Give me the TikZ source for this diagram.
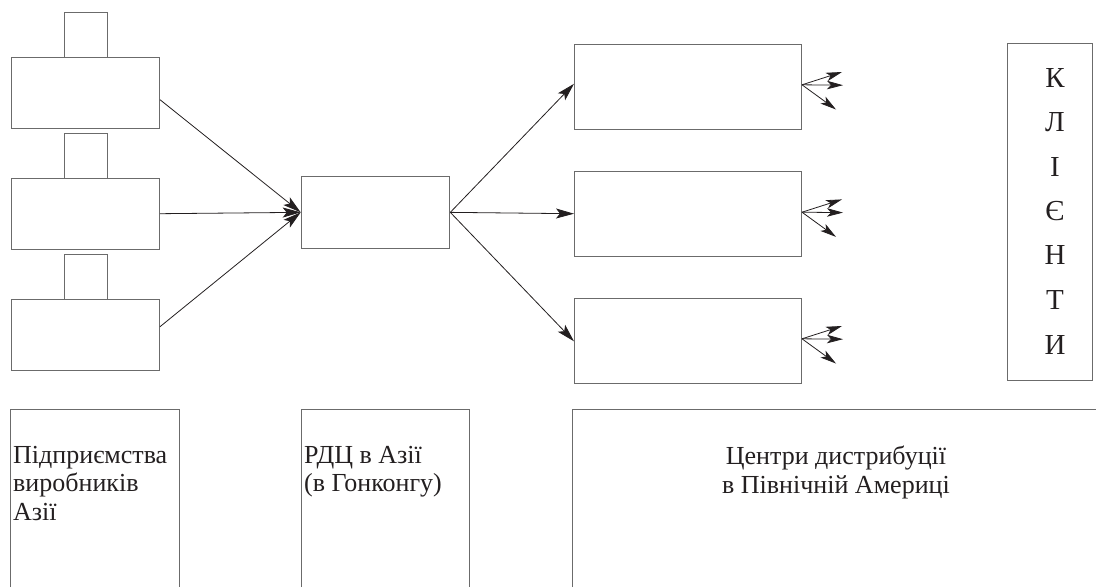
\documentclass[tikz,border=0pt]{standalone}
\usepackage{fontspec}
\setmainfont{Liberation Serif}
\usetikzlibrary{arrows.meta,calc}
\definecolor{frame}{gray}{0.42}
\definecolor{ink}{HTML}{231F20}
\begin{document}
\begin{tikzpicture}[x=1pt,y=-1pt,
  box/.style={draw=frame,line width=1pt,rectangle,inner sep=0pt,anchor=north west},
  leftbox/.style={box,minimum width=148.5pt,minimum height=71pt},
  tabbox/.style={box,minimum width=43.6pt,minimum height=44.4pt},
  rightbox/.style={box,minimum width=227pt,minimum height=85pt},
  conn/.style={draw=ink,line width=0.8pt,-{Stealth[length=18pt,width=10pt,inset=4pt]}},
  smallarrow/.style={draw=ink,line width=0.8pt,-{Stealth[length=16pt,width=8.5pt,inset=4pt]}},
  openframe/.style={draw=frame,line width=1pt},
  lbl/.style={font=\fontsize{26}{28.5}\selectfont,text=ink,inner sep=0pt}
]
\useasboundingbox (0,0) rectangle (1096,587);

% producers in Asia
\node[tabbox] (t1) at (63.7,12.3) {};
\node[leftbox] (b1) at (10.5,56.7) {};
\node[tabbox] (t2) at (63.7,133.3) {};
\node[leftbox] (b2) at (10.5,177.7) {};
\node[tabbox] (t3) at (63.7,254.3) {};
\node[leftbox] (b3) at (10.5,298.7) {};

% RDC
\node[box,minimum width=148.6pt,minimum height=71.7pt] (c) at (300.7,176) {};

% distribution centres
\node[rightbox] (r1) at (574,44.3) {};
\node[rightbox] (r2) at (574,170.7) {};
\node[rightbox] (r3) at (574,298.3) {};

% clients
\node[box,minimum width=85pt,minimum height=337pt] (k) at (1007,43) {};
\node[lbl,font=\fontsize{29}{44.5}\selectfont,align=center] (kt) at (1055,211) {К\\Л\\І\\Є\\Н\\Т\\И};

% connectors
\draw[conn] ($(b1.east)+(0,7)$) -- (c.west);
\draw[conn] (b2.east) -- (c.west);
\draw[conn] ($(b3.east)+(0,-8)$) -- (c.west);
\draw[conn] (c.east) -- ($(r1.west)+(0,-3.5)$);
\draw[conn] (c.east) -- (r2.west);
\draw[conn] (c.east) -- (r3.west);

\foreach \r/\dy in {r1/-2.5,r2/-1.5,r3/-2.5}{
  \coordinate (\r o) at ($(\r.east)+(0,\dy)$);
  \coordinate (\r a) at ($(\r o)+(40,-12.8)$);
  \coordinate (\r b) at ($(\r o)+(41,0.4)$);
  \coordinate (\r c) at ($(\r o)+(34,24.7)$);
  \draw[smallarrow] (\r o) -- (\r a);
  \draw[smallarrow] (\r o) -- (\r b);
  \draw[smallarrow] (\r o) -- (\r c);
}

% bottom label frames
\draw[openframe] (10.3,587) |- (179,409) -- (179,587);
\draw[openframe] (301.7,587) |- (469,409) -- (469,587);
\draw[openframe] (572.7,587) |- (1096,409);

\node[lbl,anchor=north west,align=left] (la) at (13,446) {Підприємства\\виробників\\Азії};
\node[lbl,anchor=north west,align=left] (lb) at (304,446) {РДЦ в Азії\\(в Гонконгу)};
\node[lbl,anchor=north,align=center] (lc) at (836,446) {Центри дистрибуції\\в Північній Америці};
\end{tikzpicture}
\end{document}
